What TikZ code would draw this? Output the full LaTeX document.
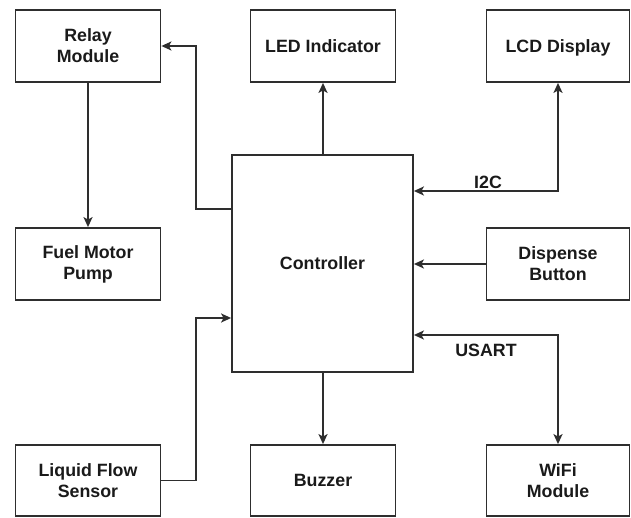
\documentclass[tikz,border=0pt]{standalone}
\usepackage{fontspec}
\setmainfont{Liberation Sans}
\usetikzlibrary{arrows.meta}
\definecolor{linec}{HTML}{2E2E2E}
\definecolor{textc}{HTML}{1A1A1A}
\tikzset{
  blk/.style={draw=linec, line width=1.8pt, fill=white, rectangle, align=center, text=textc,
    font=\fontsize{17.8}{21}\selectfont\bfseries, inner sep=0pt},
  arr/.style={draw=linec, line width=1.8pt, -{Stealth[length=10pt,width=9pt,inset=2.5pt]}},
  darr/.style={draw=linec, line width=1.8pt, {Stealth[length=10pt,width=9pt,inset=2.5pt]}-{Stealth[length=10pt,width=9pt,inset=2.5pt]}},
  lbl/.style={font=\fontsize{17.8}{21}\selectfont\bfseries, text=textc, inner sep=0pt}
}
\begin{document}
\begin{tikzpicture}[x=1pt,y=-1pt]
\useasboundingbox[fill=white] (0,0) rectangle (631,518);
\node[blk, minimum width=145pt, minimum height=72pt] (relay) at (88,46) {Relay\\Module};
\node[blk, minimum width=145pt, minimum height=72pt] (led) at (323,46) {LED Indicator};
\node[blk, minimum width=143pt, minimum height=72pt] (lcd) at (558,46) {\raisebox{0pt}[\height][0pt]{LCD Display}};
\node[blk, minimum width=181pt, minimum height=217pt] (ctrl) at (322.5,263.5) {Controller};
\node[blk, minimum width=145pt, minimum height=72pt] (fuel) at (88,264) {Fuel Motor\\Pump};
\node[blk, minimum width=143pt, minimum height=72pt] (disp) at (558,264) {Dispense\\Button};
\node[blk, minimum width=145pt, minimum height=71pt] (liq) at (88,480.5) {Liquid Flow\\Sensor};
\node[blk, minimum width=145pt, minimum height=71pt] (buzz) at (323,480.5) {Buzzer};
\node[blk, minimum width=143pt, minimum height=71pt] (wifi) at (558,480.5) {WiFi\\Module};

\coordinate (r1) at (196,209);
\coordinate (l1) at (196,318);
\coordinate (yI) at (0,191);
\coordinate (yU) at (0,335);

\draw[arr] (ctrl.west |- r1) -- (r1) |- (relay.east);
\draw[arr] (relay.south) -- (fuel.north);
\draw[arr] (led.south |- ctrl.north) -- (led.south);
\draw[darr] (ctrl.east |- yI) -| (lcd.south);
\draw[arr] (disp.west) -- (disp.west -| ctrl.east);
\draw[darr] (ctrl.east |- yU) -| (wifi.north);
\draw[arr] (buzz.north |- ctrl.south) -- (buzz.north);
\draw[arr] (liq.east) -| (l1) -- (ctrl.west |- l1);

\node[lbl] (i2c) at (488,182) {I2C};
\node[lbl] (usart) at (486,350) {USART};
\end{tikzpicture}
\end{document}
